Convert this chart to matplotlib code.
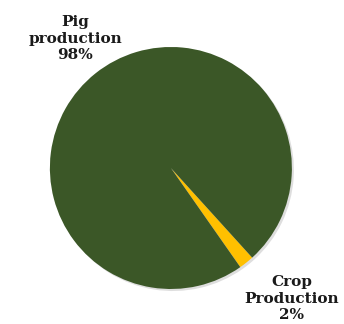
import matplotlib.pyplot as plt

labels = ['Crop\nProduction', 'Pig\nproduction']
shares = [2, 98]
colors = ['#FFC000', '#3B5727']

fig = plt.figure(figsize=(3.44, 3.24), dpi=100)
ax = fig.add_axes([0.145, 0.108, 0.7035, 0.747])

ax.pie(shares, colors=colors, startangle=-55, counterclock=True,
       wedgeprops={'linewidth': 0},
       shadow={'ox': 0.012, 'oy': -0.012, 'color': '#c8c8c8', 'alpha': 0.6})
ax.set_xlim(-1, 1)
ax.set_ylim(-1, 1)
ax.set_aspect('equal')

# label positions in data units
label_pos = [(1.0, -1.08), (-0.79, 1.07)]
for lab, val, (x, y) in zip(labels, shares, label_pos):
    ax.text(x, y, f'{lab}\n{val}%', ha='center', va='center',
            fontsize=11, fontweight='bold', family='DejaVu Serif',
            color='#1a1a1a', linespacing=1.2, clip_on=False)

fig.savefig('out.png', dpi=100)
